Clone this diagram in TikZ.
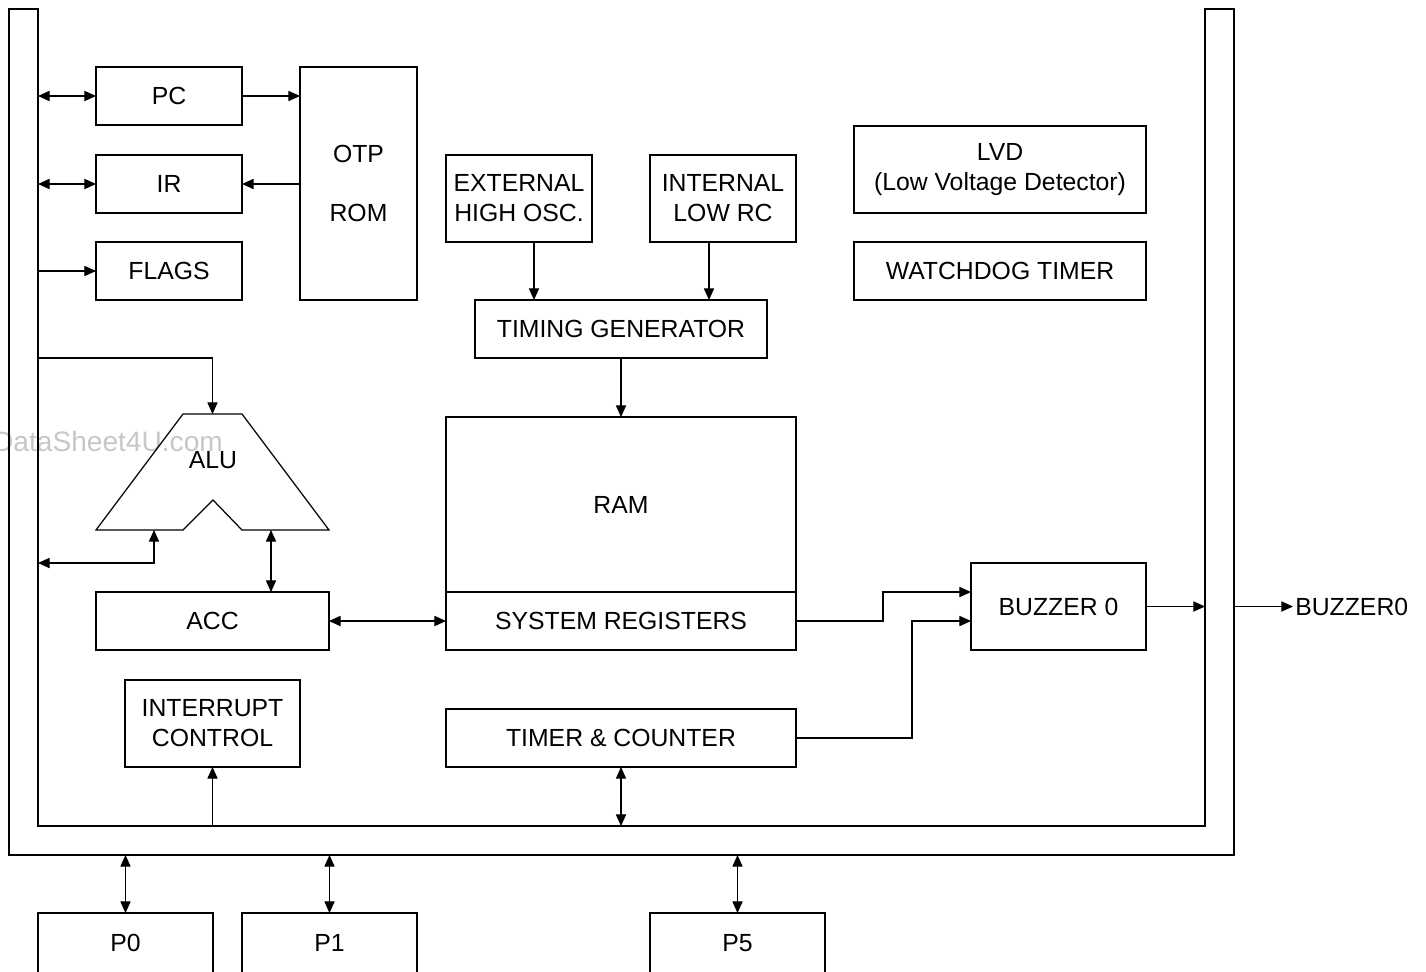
\documentclass[tikz,border=0pt]{standalone}
\usepackage{fontspec}
\setmainfont{Liberation Sans}
\usetikzlibrary{arrows.meta}
\begin{document}
\begin{tikzpicture}[x=0.02cm,y=-0.02cm,line width=0.6pt,
  >={Triangle[length=6.6pt,width=5.8pt]},
  txt/.style={font=\fontsize{14.1pt}{17pt}\selectfont},
  box/.style={txt,draw,line width=0.7pt,inner sep=0pt,outer sep=0pt,align=center,minimum width=2.92cm,minimum height=1.16cm}]
\useasboundingbox (0,0) rectangle (1426,971);
\node [text=black!22,font=\fontsize{16pt}{18pt}\selectfont] (wm) at (108,441) {DataSheet4U.com};
\coordinate (busL) at (38,0);
\coordinate (busR) at (1205,0);
\coordinate (busRo) at (1234,0);
\coordinate (busB) at (0,826);
\coordinate (busBo) at (0,855);
\draw (9,9) -- (38,9) -- (busL |- busB) -- (busR |- busB) -- (1205,9) -- (1234,9) -- (busRo |- busBo) -- (9,855) -- cycle;
\node [box] (pc) at (169,96) {PC};
\node [box] (ir) at (169,184) {IR};
\node [box] (flags) at (169,271) {FLAGS};
\node [box,minimum width=2.34cm,minimum height=4.66cm] (rom) at (358.5,183.5) {OTP\\[16.5pt]ROM};
\node [box,minimum height=1.74cm] (ext) at (519,198.5) {EXTERNAL\\HIGH OSC.};
\node [box,minimum height=1.74cm] (int) at (723,198.5) {INTERNAL\\LOW RC};
\node [box,minimum width=5.84cm] (tg) at (621,329) {TIMING GENERATOR};
\node [box,minimum width=5.84cm,minimum height=1.74cm] (lvd) at (1000,169.5) {LVD\\(Low Voltage Detector)};
\node [box,minimum width=5.84cm] (wdt) at (1000,271) {WATCHDOG TIMER};
\node [box,minimum width=7cm,minimum height=3.5cm] (ram) at (621,504.5) {RAM};
\node [box,minimum width=7cm] (sreg) at (621,621) {SYSTEM REGISTERS};
\node [box,minimum width=4.66cm] (acc) at (212.5,621) {ACC};
\node [box,minimum width=3.5cm,minimum height=1.74cm] (buz) at (1058.5,606.5) {BUZZER 0};
\node [box,minimum width=7cm] (tc) at (621,738) {TIMER \& COUNTER};
\node [box,minimum width=3.5cm,minimum height=1.74cm] (ic) at (212.5,723.5) {INTERRUPT\\CONTROL};
\node [box,minimum width=3.5cm,minimum height=1.2cm] (p0) at (125.5,943) {P0};
\node [box,minimum width=3.5cm,minimum height=1.2cm] (p1) at (329.5,943) {P1};
\node [box,minimum width=3.5cm,minimum height=1.2cm] (p5) at (737.5,943) {P5};
\node [txt,anchor=west,inner sep=1pt] (out) at (1293,606.5) {BUZZER0};
\draw [line width=0.7pt] (183,414) -- (242,414) -- (329,530) -- (242,530) -- (213,500) -- (183,530) -- (96,530) -- cycle;
\node [txt] (alu) at (213,460) {ALU};
\coordinate (aluT) at (212.5,414);
\coordinate (aluA) at (154,530);
\coordinate (aluB) at (271,530);
\coordinate (extS) at ([xshift=0.3cm]ext.south);
\coordinate (intS) at ([xshift=-0.28cm]int.south);
\draw [<->] (pc.west -| busL) -- (pc.west);
\draw [->] (pc.east) -- (pc.east -| rom.west);
\draw [->] (ir.east -| rom.west) -- (ir.east);
\draw [<->] (ir.west -| busL) -- (ir.west);
\draw [->] (flags.west -| busL) -- (flags.west);
\draw [->] (38,358) -| (aluT);
\draw [<->] (38,563) -| (aluA);
\draw [<->] (aluB) -- (aluB |- acc.north);
\draw [<->] (acc.east) -- (sreg.west);
\draw [->] (extS) -- (extS |- tg.north);
\draw [->] (intS) -- (intS |- tg.north);
\draw [->] (tg.south) -- (ram.north);
\draw [->] (sreg.east) -- ++(87,0) |- ([yshift=0.29cm]buz.west);
\draw [->] (tc.east) -- ++(116,0) |- ([yshift=-0.29cm]buz.west);
\draw [->] (buz.east) -- (buz.east -| busR);
\draw [->] (buz.east -| busRo) -- (out.west);
\draw [->] (ic.south |- busB) -- (ic.south);
\draw [<->] (tc.south) -- (tc.south |- busB);
\draw [<->] (p0.north |- busBo) -- (p0.north);
\draw [<->] (p1.north |- busBo) -- (p1.north);
\draw [<->] (p5.north |- busBo) -- (p5.north);
\end{tikzpicture}
\end{document}
